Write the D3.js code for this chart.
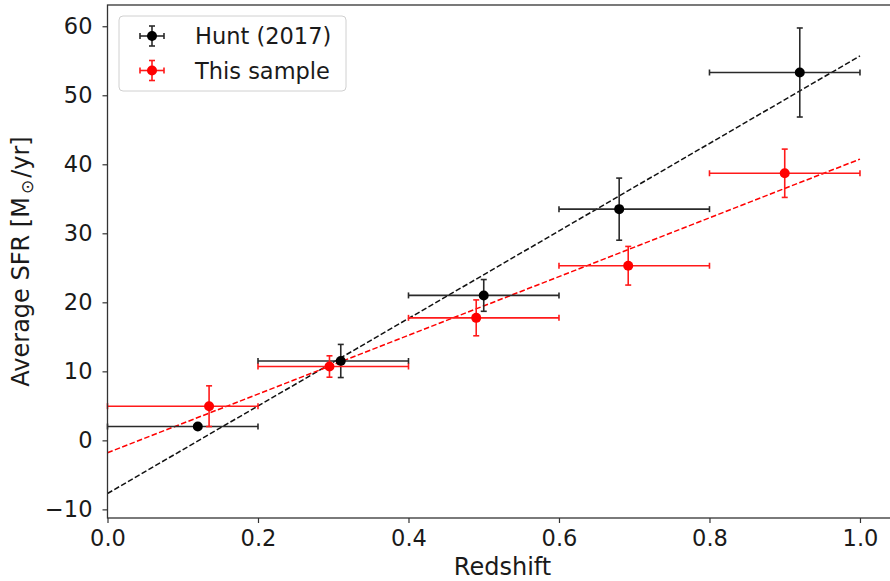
<!DOCTYPE html>
<html>
<head>
<meta charset="utf-8">
<script src="https://cdn.jsdelivr.net/npm/d3@7/dist/d3.min.js"></script>
<style>
  html, body { margin: 0; padding: 0; background: #fff; }
  svg { display: block; font-family: "DejaVu Sans", sans-serif; }
</style>
</head>
<body>
<svg id="chart" width="890" height="581"></svg>
<script>
// Hunt (2017) binned averages
const huntZ     = [0.12, 0.31, 0.50, 0.68, 0.92];
const huntSFR   = [2.0, 11.5, 21.0, 33.5, 53.3];
const huntZLo   = [0.0, 0.2, 0.4, 0.6, 0.8];
const huntZHi   = [0.2, 0.4, 0.6, 0.8, 1.0];
const huntSFRErr = [0.0, 2.4, 2.3, 4.5, 6.45];

// This sample binned averages
const sampleZ     = [0.135, 0.295, 0.49, 0.692, 0.90];
const sampleSFR   = [4.95, 10.7, 17.75, 25.3, 38.7];
const sampleZLo   = [0.0, 0.2, 0.4, 0.6, 0.8];
const sampleZHi   = [0.2, 0.4, 0.6, 0.8, 1.0];
const sampleSFRErr = [2.95, 1.55, 2.6, 2.8, 3.5];

// Linear fits (SFR = slope * z + intercept), drawn over z in [0, 1]
const huntFit   = { slope: 63.4, intercept: -7.7 };
const sampleFit = { slope: 42.55, intercept: -1.8 };
const fitRange  = [0, 1];

const xTicks = [0.0, 0.2, 0.4, 0.6, 0.8, 1.0];
const yTicks = [-10, 0, 10, 20, 30, 40, 50, 60];

const legendLabels = ["Hunt (2017)", "This sample"];

const svg = d3.select("#chart");
const margin = { left: 107.5, top: 5, right: 897.6, bottom: 518 };

const x = d3.scaleLinear().domain([0, 1.05]).range([margin.left, margin.right]);
const y = d3.scaleLinear().domain([-11.25, 63.08]).range([margin.bottom, margin.top]);

const axisColor = "#333";
const tickFont = 22.5;
const labelFont = 24;

const plot = svg.append("g");

// Axes
const xAxis = svg.append("g")
  .attr("transform", `translate(0,${margin.bottom})`)
  .call(d3.axisBottom(x).tickValues(xTicks).tickFormat(d3.format(".1f")).tickSize(5).tickPadding(7));
const yAxis = svg.append("g")
  .attr("transform", `translate(${margin.left},0)`)
  .call(d3.axisLeft(y).tickValues(yTicks).tickFormat(d => d < 0 ? "\u2212" + Math.abs(d) : d).tickSize(5).tickPadding(10));

[xAxis, yAxis].forEach(a => {
  a.select(".domain").remove();
  a.selectAll(".tick line").attr("stroke", axisColor).attr("stroke-width", 1.2);
  a.selectAll(".tick text").attr("fill", "#1a1a1a").style("font-size", tickFont + "px")
    .style("font-family", "'DejaVu Sans', sans-serif");
});

// Frame
svg.append("rect")
  .attr("x", margin.left).attr("y", margin.top)
  .attr("width", margin.right - margin.left).attr("height", margin.bottom - margin.top)
  .attr("fill", "none").attr("stroke", axisColor).attr("stroke-width", 1.3);

// Fit lines
function drawFit(fit, color) {
  plot.append("line")
    .attr("x1", x(fitRange[0])).attr("y1", y(fit.slope * fitRange[0] + fit.intercept))
    .attr("x2", x(fitRange[1])).attr("y2", y(fit.slope * fitRange[1] + fit.intercept))
    .attr("stroke", color).attr("stroke-width", 1.5)
    .attr("stroke-dasharray", "5.5,2.4");
}

// Error bars with caps and markers
function drawSeries(zs, sfr, zLo, zHi, err, color, barColor) {
  const g = plot.append("g");
  const cap = 3;
  zs.forEach((z, i) => {
    const cx = x(z), cy = y(sfr[i]);
    // horizontal bin extent
    g.append("line").attr("x1", x(zLo[i])).attr("x2", x(zHi[i]))
      .attr("y1", cy).attr("y2", cy).attr("stroke", barColor).attr("stroke-width", 1.6);
    [zLo[i], zHi[i]].forEach(v => {
      g.append("line").attr("x1", x(v)).attr("x2", x(v))
        .attr("y1", cy - cap).attr("y2", cy + cap).attr("stroke", barColor).attr("stroke-width", 1.6);
    });
    if (err[i] > 0) {
      const yt = y(sfr[i] + err[i]), yb = y(sfr[i] - err[i]);
      g.append("line").attr("x1", cx).attr("x2", cx).attr("y1", yt).attr("y2", yb)
        .attr("stroke", barColor).attr("stroke-width", 1.6);
      [yt, yb].forEach(v => {
        g.append("line").attr("x1", cx - cap).attr("x2", cx + cap)
          .attr("y1", v).attr("y2", v).attr("stroke", barColor).attr("stroke-width", 1.6);
      });
    }
    g.append("circle").attr("cx", cx).attr("cy", cy).attr("r", 5).attr("fill", color);
  });
}

drawFit(huntFit, "#111");
drawFit(sampleFit, "#ff0000");
drawSeries(huntZ, huntSFR, huntZLo, huntZHi, huntSFRErr, "#000", "#2a2a2a");
drawSeries(sampleZ, sampleSFR, sampleZLo, sampleZHi, sampleSFRErr, "#ff0000", "#ff1a1a");

// Legend
const legend = svg.append("g");
legend.append("rect")
  .attr("x", 119).attr("y", 16).attr("width", 227).attr("height", 75)
  .attr("rx", 4).attr("fill", "#fff").attr("fill-opacity", 0.8)
  .attr("stroke", "#d0d0d0").attr("stroke-width", 1);
const legendColors = [["#000", "#2a2a2a"], ["#ff0000", "#ff1a1a"]];
legendLabels.forEach((lab, i) => {
  const cy = 36 + i * 34.5, cx = 152;
  const [fc, bc] = legendColors[i];
  const gl = legend.append("g");
  gl.append("line").attr("x1", cx - 12).attr("x2", cx + 12).attr("y1", cy).attr("y2", cy)
    .attr("stroke", bc).attr("stroke-width", 1.6);
  gl.append("line").attr("x1", cx).attr("x2", cx).attr("y1", cy - 10).attr("y2", cy + 10)
    .attr("stroke", bc).attr("stroke-width", 1.6);
  [[cx - 12, cx - 12, cy - 3, cy + 3], [cx + 12, cx + 12, cy - 3, cy + 3],
   [cx - 3, cx + 3, cy - 10, cy - 10], [cx - 3, cx + 3, cy + 10, cy + 10]].forEach(c => {
    gl.append("line").attr("x1", c[0]).attr("x2", c[1]).attr("y1", c[2]).attr("y2", c[3])
      .attr("stroke", bc).attr("stroke-width", 1.6);
  });
  gl.append("circle").attr("cx", cx).attr("cy", cy).attr("r", 5).attr("fill", fc);
  legend.append("text").attr("x", 195).attr("y", cy + 8)
    .attr("fill", "#1a1a1a").style("font-size", tickFont + "px").text(lab);
});

// Axis labels
svg.append("text")
  .attr("x", (margin.left + margin.right) / 2).attr("y", 575)
  .attr("text-anchor", "middle").attr("fill", "#1a1a1a")
  .style("font-size", labelFont + "px").text("Redshift");

const yl = svg.append("text")
  .attr("transform", `translate(29,${(margin.top + margin.bottom) / 2}) rotate(-90)`)
  .attr("text-anchor", "middle").attr("fill", "#1a1a1a")
  .style("font-size", labelFont + "px");
yl.append("tspan").text("Average SFR [M");
yl.append("tspan").attr("dx", 3).attr("dy", 4).style("font-size", "17px").text("\u2299");
yl.append("tspan").attr("dx", 2).attr("dy", -4).text("/yr]");
</script>
</body>
</html>
